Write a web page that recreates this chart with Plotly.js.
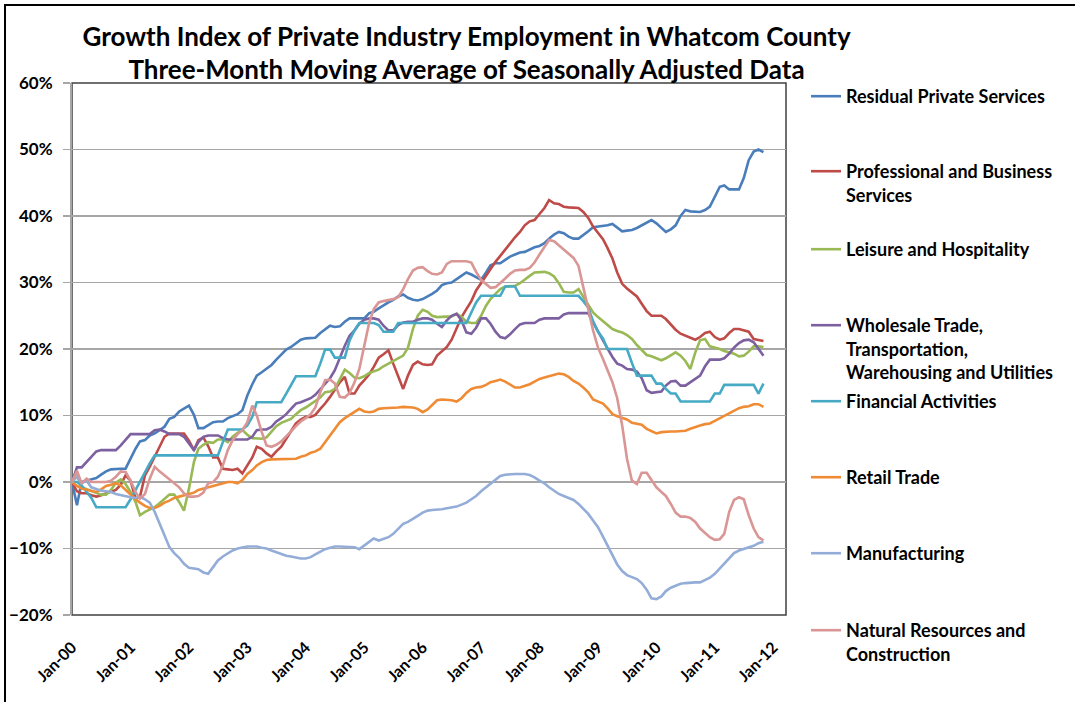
<!DOCTYPE html>
<html>
<head>
<meta charset="utf-8">
<script src="https://cdn.plot.ly/plotly-3.0.1.min.js"></script>
<style>
  html, body { margin: 0; padding: 0; overflow: hidden; background: #fff; }
  #graph { width: 1075px; height: 702px; }
  #frame { position: absolute; left: 4px; top: 4px; width: 1100px; height: 740px;
           border: 2px solid #000; pointer-events: none; }
</style>
</head>
<body>
<div id="graph"></div>
<div id="frame"></div>
<script>
// Growth index (% change since Jan-2000), monthly Jan-2000 .. Nov-2011
var residualPrivateServices = [
  0, -3.5, 0, 0.2, 0.3, 0.6, 1.1, 1.6, 1.9, 2.0,
  2.0, 2.0, 3.5, 5.0, 6.1, 6.3, 7.0, 7.3, 7.8, 8.3,
  9.5, 9.8, 10.6, 11.0, 11.5, 10.1, 8.1, 8.1, 8.6, 9.0,
  9.1, 9.1, 9.6, 9.9, 10.2, 10.8, 13.0, 14.7, 16.0, 16.5,
  17.1, 17.6, 18.4, 19.1, 19.9, 20.3, 20.9, 21.4, 21.6, 21.6,
  21.7, 22.4, 22.9, 23.5, 23.3, 23.4, 24.1, 24.6, 24.6, 24.6,
  24.6, 25.4, 25.6, 26.1, 26.6, 27.0, 27.4, 27.9, 28.2, 27.7,
  27.4, 27.3, 27.5, 27.9, 28.3, 28.8, 29.6, 29.9, 30.0, 30.5,
  31.0, 31.5, 31.2, 30.8, 30.4, 31.5, 32.6, 32.9, 32.9, 33.4,
  33.9, 34.2, 34.5, 34.6, 35.0, 35.3, 35.5, 35.9, 36.6, 37.2,
  37.6, 37.4, 36.9, 36.6, 36.6, 37.1, 37.7, 38.3, 38.4, 38.4,
  38.6, 38.8, 38.3, 37.7, 37.8, 37.9, 38.2, 38.6, 39.0, 39.4,
  38.9, 38.2, 37.6, 38.0, 38.6, 40.0, 40.9, 40.7, 40.6, 40.6,
  40.9, 41.4, 42.9, 44.4, 44.6, 44.0, 44.0, 44.0, 45.7, 48.4,
  49.7, 50.0, 49.6
];
var professionalBusiness = [
  0, -1.4, -1.7, -1.7, -2.0, -2.2, -2.0, -1.7, -1.5, -1.2,
  -0.4, 1.0, 0.2, -2.5, -2.2, 1.0, 2.3, 3.8, 5.5, 6.8,
  7.3, 7.3, 7.3, 7.3, 6.2, 4.8, 6.3, 6.7, 5.4, 3.7,
  3.7, 2.0, 1.9, 1.8, 2.0, 1.3, 2.5, 3.7, 5.3, 5.0,
  4.3, 3.8, 4.6, 5.3, 6.5, 7.7, 8.8, 9.4, 9.8, 9.8,
  10.1, 11.0, 11.8, 12.8, 13.8, 15.0, 15.8, 13.3, 13.3, 14.5,
  15.3, 16.2, 17.3, 18.7, 19.2, 19.8, 17.8, 15.8, 14.0, 16.0,
  17.6, 18.1, 17.7, 17.6, 17.7, 19.0, 19.6, 20.3, 21.4, 23.2,
  24.8, 26.0, 27.2, 28.8, 29.9, 31.0, 32.1, 33.1, 34.0, 35.0,
  35.9, 36.8, 37.6, 38.6, 39.2, 39.4, 40.3, 41.2, 42.4, 41.9,
  41.8, 41.4, 41.3, 41.2, 41.2, 40.6, 39.7, 38.4, 37.5, 36.5,
  35.2, 33.6, 31.5, 29.8, 29.1, 28.5, 27.9, 26.8, 25.7, 25.0,
  25.0, 25.0, 24.5, 23.6, 22.9, 22.3, 22.0, 21.6, 21.4, 21.8,
  22.4, 22.6, 21.8, 21.4, 21.6, 22.4, 23.0, 23.0, 22.8, 22.6,
  21.5, 21.3, 21.2
];
var leisureHospitality = [
  0, 1.0, -0.8, -1.1, -1.4, -1.7, -1.9, -1.9, -1.2, -0.1,
  0.4, -0.3, -1.5, -3.0, -5.0, -4.5, -4.1, -3.8, -3.2, -2.6,
  -1.9, -1.9, -3.0, -4.3, -1.0, 3.0, 5.0, 5.6, 6.0, 5.9,
  6.4, 6.4, 6.0, 6.8, 7.4, 7.8, 7.1, 6.6, 6.5, 6.5,
  6.7, 7.5, 8.4, 8.9, 9.2, 9.5, 10.2, 10.8, 11.2, 11.7,
  12.1, 12.7, 13.5, 13.6, 14.0, 15.5, 16.9, 16.4, 15.7, 15.6,
  15.9, 16.4, 16.6, 16.9, 17.4, 17.8, 18.3, 18.7, 19.0, 20.2,
  23.0, 25.0, 25.9, 25.6, 25.0, 24.8, 24.8, 24.9, 24.9, 25.3,
  24.8, 24.1, 23.9, 23.9, 25.0, 26.5, 27.5, 28.3, 29.0, 29.4,
  29.5, 29.5, 29.9, 30.5, 31.0, 31.5, 31.6, 31.6, 31.4, 30.9,
  29.9, 28.6, 28.5, 28.5, 29.0, 27.8, 26.7, 25.5, 24.8, 24.2,
  23.6, 23.0, 22.7, 22.5, 22.1, 21.5, 20.6, 19.8, 19.1, 18.9,
  18.6, 18.3, 18.6, 19.1, 19.5, 19.0, 18.2, 17.0, 19.5, 21.3,
  21.5, 20.4, 20.2, 20.0, 19.7, 19.5, 19.3, 18.9, 19.0, 19.6,
  20.4, 20.4, 20.3
];
var wholesaleTransportUtilities = [
  0, 2.2, 2.2, 3.0, 3.7, 4.6, 4.8, 4.8, 4.8, 4.8,
  5.5, 6.4, 7.2, 7.2, 7.2, 7.2, 7.2, 7.8, 7.9, 7.6,
  7.2, 7.2, 7.2, 6.8, 5.8, 4.8, 6.0, 6.8, 7.0, 7.0,
  7.0, 6.6, 6.4, 6.4, 6.4, 6.4, 6.4, 6.8, 7.8, 7.9,
  7.9, 8.3, 9.1, 9.6, 10.2, 11.0, 11.8, 12.0, 12.3, 12.6,
  13.1, 14.0, 14.8, 15.6, 16.8, 18.7, 20.5, 22.0, 22.8, 23.8,
  24.4, 24.6, 24.6, 24.4, 23.5, 22.8, 22.8, 23.6, 24.0, 24.1,
  24.1, 24.4, 24.6, 24.6, 24.4, 23.8, 23.3, 24.3, 25.0, 25.3,
  24.3, 22.5, 22.3, 23.2, 24.6, 24.6, 23.8, 22.6, 21.8, 21.6,
  22.2, 23.0, 23.7, 23.9, 23.9, 23.9, 24.4, 24.6, 24.6, 24.6,
  24.6, 25.2, 25.4, 25.4, 25.4, 25.4, 25.4, 24.0, 22.6, 21.2,
  20.1, 18.8, 17.8, 17.5, 17.0, 16.9, 16.6, 15.6, 13.8, 13.4,
  13.5, 13.6, 14.5, 15.1, 15.2, 14.5, 14.5, 15.0, 15.4, 16.0,
  17.4, 18.4, 18.4, 18.4, 18.6, 19.3, 20.2, 20.9, 21.3, 21.4,
  21.0, 20.0, 19.0
];
var financialActivities = [
  0, 0, -0.5, -1.5, -2.4, -3.8, -3.8, -3.8, -3.8, -3.8,
  -3.8, -3.8, -2.6, -1.2, 0.2, 1.4, 2.8, 4.0, 4.0, 4.0,
  4.0, 4.0, 4.0, 4.0, 4.0, 4.0, 4.0, 4.0, 4.0, 4.0,
  4.0, 6.0, 7.9, 7.9, 7.9, 7.9, 8.5, 9.8, 12.0, 12.0,
  12.0, 12.0, 12.0, 12.0, 13.3, 14.6, 15.9, 15.9, 15.9, 15.9,
  15.9, 17.8, 19.9, 19.9, 18.7, 18.7, 18.7, 21.3, 22.8, 23.9,
  23.9, 23.9, 23.9, 23.6, 22.6, 22.6, 22.6, 23.9, 23.9, 23.9,
  23.9, 23.9, 23.9, 23.9, 23.9, 23.9, 23.9, 23.9, 23.9, 23.9,
  23.9, 23.9, 25.5, 27.0, 28.0, 28.0, 28.0, 28.0, 28.0, 29.4,
  29.4, 29.4, 28.0, 28.0, 28.0, 28.0, 28.0, 28.0, 28.0, 28.0,
  28.0, 28.0, 28.0, 28.0, 28.0, 27.2, 26.2, 24.2, 22.6, 21.6,
  20.0, 20.0, 20.0, 20.0, 20.0, 17.9, 16.0, 16.0, 16.0, 16.0,
  14.8, 14.8, 14.0, 13.3, 13.3, 12.1, 12.1, 12.1, 12.1, 12.1,
  12.1, 12.1, 13.3, 13.3, 14.6, 14.6, 14.6, 14.6, 14.6, 14.6,
  14.6, 13.3, 14.8
];
var retailTrade = [
  0, -0.6, -1.0, -1.2, -1.4, -1.5, -1.1, -0.6, -0.4, -0.2,
  -0.5, -1.2, -2.0, -2.6, -3.1, -3.6, -3.9, -3.9, -3.6, -3.1,
  -2.8, -2.4, -2.2, -2.0, -1.8, -1.6, -1.2, -1.0, -0.8, -0.6,
  -0.5, -0.2, 0.0, 0.0, -0.2, 0.3, 1.2, 1.8, 2.5, 3.0,
  3.3, 3.4, 3.4, 3.4, 3.4, 3.4, 3.5, 3.8, 4.0, 4.4,
  4.6, 5.0, 6.0, 7.0, 7.9, 9.0, 9.6, 10.1, 10.6, 11.0,
  10.6, 10.5, 10.6, 11.0, 11.1, 11.1, 11.1, 11.2, 11.3, 11.3,
  11.2, 11.0, 10.5, 10.9, 11.6, 12.3, 12.4, 12.4, 12.3, 12.1,
  12.6, 13.4, 14.0, 14.2, 14.3, 14.6, 15.0, 15.2, 15.4, 15.1,
  14.6, 14.2, 14.2, 14.4, 14.7, 15.1, 15.5, 15.7, 15.9, 16.1,
  16.3, 16.2, 15.8, 15.2, 14.8, 14.2, 13.5, 12.4, 12.1, 11.8,
  11.1, 10.2, 9.9, 9.7, 9.4, 8.9, 8.7, 8.6, 8.0, 7.6,
  7.3, 7.5, 7.6, 7.6, 7.6, 7.6, 7.7, 8.0, 8.3, 8.5,
  8.7, 8.8, 9.2, 9.6, 9.9, 10.3, 10.7, 11.1, 11.3, 11.4,
  11.7, 11.7, 11.3
];
var manufacturing = [
  0, 0.8, -0.2, 0.2, -0.8, -1.1, -1.3, -1.4, -1.5, -1.8,
  -2.0, -2.2, -2.3, -2.4, -2.2, -2.6, -3.1, -4.5, -6.3, -8.2,
  -9.8, -10.7, -11.4, -12.3, -12.9, -13.0, -13.1, -13.6, -13.8, -12.8,
  -11.8, -11.2, -10.7, -10.3, -10.0, -9.8, -9.7, -9.7, -9.7, -9.9,
  -10.0, -10.3, -10.6, -10.8, -11.1, -11.2, -11.4, -11.5, -11.5, -11.3,
  -10.9, -10.5, -10.1, -9.9, -9.7, -9.7, -9.7, -9.7, -9.8, -10.1,
  -9.5, -9.0, -8.5, -8.8, -8.6, -8.3, -7.8, -7.1, -6.3, -6.0,
  -5.6, -5.1, -4.6, -4.3, -4.2, -4.2, -4.1, -3.95, -3.8, -3.7,
  -3.4, -3.1, -2.6, -2.1, -1.4, -0.8, -0.2, 0.4, 0.9, 1.1,
  1.2, 1.2, 1.2, 1.2, 1.05, 0.7, 0.2, -0.2, -0.8, -1.3,
  -1.8, -2.1, -2.4, -2.7, -3.3, -4.0, -4.8, -5.8, -6.8, -8.2,
  -9.6, -11.0, -12.4, -13.4, -14.0, -14.3, -14.6, -15.2, -16.2, -17.5,
  -17.6, -17.2, -16.4, -15.9, -15.6, -15.3, -15.2, -15.1, -15.1, -15.1,
  -14.8, -14.4, -13.8, -13.0, -12.2, -11.4, -10.7, -10.3, -10.1, -9.9,
  -9.6, -9.2, -9.0
];
var naturalResourcesConstruction = [
  0, 1.7, -0.2, 0.5, 0.0, 0.0, 0.0, 0.0, 0.2, 0.8,
  1.6, 1.5, 0.2, -1.5, -2.5, -1.8, 0.5, 2.3, 1.6, 1.0,
  0.3, -0.2, -0.8, -1.7, -2.2, -2.2, -2.1, -1.6, -0.2, 0.0,
  0.8, 2.5, 4.8, 6.3, 7.2, 7.8, 9.0, 11.5, 10.0, 7.5,
  5.5, 5.3, 5.6, 6.1, 6.8, 7.6, 8.4, 9.1, 9.6, 10.2,
  11.2, 13.5, 15.3, 15.4, 14.8, 12.8, 12.7, 13.4, 15.0, 17.0,
  20.5, 24.0, 26.0, 27.0, 27.2, 27.3, 27.5, 27.8, 29.0, 30.5,
  31.8, 32.2, 32.3, 31.7, 31.3, 31.2, 31.5, 32.8, 33.2, 33.2,
  33.2, 33.2, 33.0, 31.6, 30.4, 29.7, 29.2, 29.3, 29.9, 30.6,
  31.3, 31.8, 31.9, 31.9, 32.2, 33.0, 34.2, 35.4, 36.4, 36.2,
  35.6, 35.0, 34.4, 33.7, 32.5, 29.5, 26.0, 22.8, 20.2, 18.5,
  16.8, 15.0, 12.6, 8.5, 3.5, 0.2, -0.3, 1.4, 1.4, 0.3,
  -0.8, -1.5, -2.1, -3.3, -4.6, -5.2, -5.2, -5.4, -6.0, -7.0,
  -7.7, -8.3, -8.7, -8.6, -7.8, -4.5, -2.7, -2.3, -2.6, -5.0,
  -7.0, -8.3, -8.8
];

var seriesNames = [
  "Residual Private Services",
  "Professional and Business<br>Services",
  "Leisure and Hospitality",
  "Wholesale Trade,<br>Transportation,<br>Warehousing and Utilities",
  "Financial Activities",
  "Retail Trade",
  "Manufacturing",
  "Natural Resources and<br>Construction"
];
var seriesValues = [residualPrivateServices, professionalBusiness, leisureHospitality,
  wholesaleTransportUtilities, financialActivities, retailTrade, manufacturing,
  naturalResourcesConstruction];
var seriesColors = ["#4A7EBB", "#BE4B48", "#98B954", "#7D60A0",
  "#46AAC5", "#F08B35", "#93ADD8", "#D99694"];

// one date per month, Jan-2000 onwards
var months = [];
for (var i = 0; i < residualPrivateServices.length; i++) {
  var yr = 2000 + Math.floor(i / 12), mo = (i % 12) + 1;
  months.push(yr + "-" + (mo < 10 ? "0" + mo : mo) + "-01");
}

var FONT = "Lato, 'Open Sans', sans-serif";
var legendTops = [97, 172, 250, 326, 402, 478, 554, 631]; // legend line y (px)

var data = [];
var layout = {
  width: 1075,
  height: 702,
  margin: {l: 72, r: 289, t: 83, b: 87, pad: 0},
  paper_bgcolor: "#fff",
  plot_bgcolor: "#fff",
  showlegend: true,
  title: {
    text: "Growth Index of Private Industry Employment in Whatcom County<br>Three-Month Moving Average of Seasonally Adjusted Data",
    x: 0.434, xref: "container", xanchor: "center",
    y: 0.935, yref: "container", yanchor: "middle",
    font: {family: FONT, size: 26, color: "#000", weight: "bold"}
  },
  xaxis: {
    type: "date",
    range: ["2000-01-01", "2012-03-21"],
    tick0: "2000-01-01", dtick: "M12", tickformat: "%b-%y",
    tickangle: -45, ticks: "", ticklabelstandoff: 19,
    showgrid: false, zeroline: false, showline: false,
    tickfont: {family: FONT, size: 16, color: "#000", weight: "bold"}
  },
  xaxis2: {
    type: "date", overlaying: "x", anchor: "free", position: 0.25,
    range: ["2000-01-01", "2012-03-21"],
    tick0: "2000-01-01", dtick: "M12",
    ticks: "outside", ticklen: 5, tickwidth: 1.5, tickcolor: "#A6A6A6",
    showline: true, linecolor: "#A6A6A6", linewidth: 1.5,
    showticklabels: false, showgrid: false, zeroline: false
  },
  yaxis: {
    range: [-20, 60], dtick: 10, ticksuffix: "%",
    showgrid: true, gridcolor: "#A6A6A6", gridwidth: 1.3,
    zeroline: false, showline: true, linecolor: "#A6A6A6", linewidth: 2,
    ticks: "outside", ticklen: 7, tickcolor: "#A6A6A6", tickwidth: 1.3,
    ticklabelstandoff: 7,
    tickfont: {family: FONT, size: 17, color: "#000", weight: "bold"}
  },
  shapes: [{
    type: "rect", xref: "paper", yref: "paper", x0: 0, x1: 1, y0: 0, y1: 1,
    line: {color: "#404040", width: 1.5}, layer: "between"
  }]
};

for (var k = 0; k < seriesNames.length; k++) {
  var legendId = k === 0 ? "legend" : "legend" + (k + 1);
  data.push({
    x: months,
    y: seriesValues[k],
    type: "scatter",
    mode: "lines",
    name: seriesNames[k],
    legend: legendId,
    line: {color: seriesColors[k], width: 2.6},
    hoverinfo: "x+y+name"
  });
  layout[legendId] = {
    x: 806 / 1075, xref: "container", xanchor: "left",
    y: 1 - (legendTops[k] - 19) / 702, yref: "container", yanchor: "top",
    valign: "top", bgcolor: "rgba(0,0,0,0)", borderwidth: 0,
    font: {family: FONT, size: 18, color: "#000", weight: "bold"}
  };
}

Plotly.newPlot("graph", data, layout, {displayModeBar: false, staticPlot: true});
</script>
</body>
</html>
